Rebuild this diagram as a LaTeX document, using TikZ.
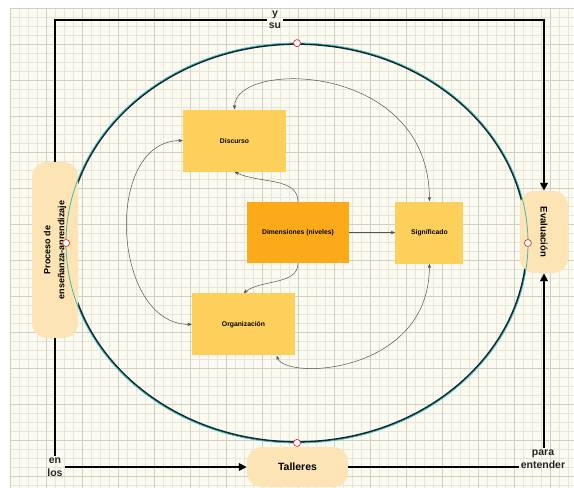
\documentclass[tikz,border=0pt]{standalone}
\usepackage{fontspec}
\setmainfont{Liberation Sans}
\usepackage{tikz}
\usetikzlibrary{
  arrows.meta, % for prettier arrows
  positioning, % for relative node positioning
  calc, % for position calculations
  shapes.geometric, % for the ellipse
}
\definecolor{paper-cream}{RGB}{251, 250, 240}
\definecolor{grid-minor}{RGB}{231, 229, 216}
\definecolor{grid-major}{RGB}{210, 207, 192}
\definecolor{box-yellow}{RGB}{253, 208, 92}
\definecolor{box-orange}{RGB}{253, 170, 26}
\definecolor{pill-beige}{RGB}{252, 228, 180}
\definecolor{ring-navy}{RGB}{14, 36, 52}
\definecolor{ring-teal}{RGB}{66, 186, 178}
\definecolor{pin-red}{RGB}{226, 50, 50}

\begin{document}
\begin{tikzpicture}[x=1pt, y=-1pt,%
    flow/.style={line width=2.4pt, black, >={Triangle[length=8pt, width=7.5pt]}},%
    link/.style={gray!65!black, line width=0.5pt, >={Stealth[length=4.5pt, width=3.5pt]}},%
    box/.style={fill=box-yellow, minimum width=103pt, minimum height=62pt,%
      font=\fontsize{6.8}{8}\selectfont\bfseries},%
    pill/.style={fill=pill-beige, rounded corners=15pt, align=center,%
      font=\fontsize{9}{14}\selectfont\bfseries},%
    tag/.style={text=black!85, align=center, inner sep=2pt,%
      font=\fontsize{10.5}{12.5}\selectfont\bfseries},%
    pin/.style={circle, draw=pin-red, fill=white, line width=0.7pt, inner sep=0pt, minimum size=7pt},%
  ]
  \useasboundingbox (0,0) rectangle (574,488);
  % paper with grid
  \fill[paper-cream] (10,8) rectangle (574,488);
  \foreach \gx in {10,19,...,574} \draw[grid-minor, line width=0.4pt] (\gx,8) -- (\gx,488);
  \foreach \gy in {8,17,...,488} \draw[grid-minor, line width=0.4pt] (10,\gy) -- (574,\gy);
  \foreach \gx in {10,46,...,574} \draw[grid-major, line width=0.5pt] (\gx,8) -- (\gx,488);
  \foreach \gy in {8,44,...,488} \draw[grid-major, line width=0.5pt] (10,\gy) -- (574,\gy);

  % the big cycle
  \node[ellipse, draw=ring-navy, line width=1.8pt, minimum width=460pt, minimum height=398pt, inner sep=0pt]
    (cycle) at (297,243) {};

  % inner boxes
  \node[box, fill=box-orange, minimum width=102pt, minimum height=61pt] (dim) at (298,232.5) {Dimensiones (niveles)};
  \node[box, above=30pt of dim, xshift=-63.5pt] (disc) {Discurso};
  \node[box, right=46pt of dim, minimum width=68pt] (sig) {Significado};
  \node[box, below=30pt of dim, xshift=-54.5pt] (org) {Organización};

  % outer nodes
  \node[pill, rotate=90, minimum width=176pt, minimum height=46pt] (proc) at (55,250) {Proceso de\\enseñanza-aprendizaje};
  \node[pill, rotate=-90, minimum width=82pt, minimum height=48pt, font=\fontsize{9.5}{12}\selectfont\bfseries]
    (eval) at (544,232) {Evaluación};
  \node[pill, minimum width=101pt, minimum height=40pt, font=\fontsize{10.5}{12}\selectfont\bfseries]
    (talleres) at (297.5,467) {Talleres};

  % teal edge of the cycle, over the nodes
  \draw[ring-teal, line width=0.8pt] (cycle.center) ellipse [x radius=231, y radius=200];
  \foreach \side in {north,south,east,west}
    \node[pin] at (cycle.\side) {};

  % labels on the thick lines
  \node[tag] (ysu) at (275,20) {y\\su};
  \node[tag] (enlos) at (55,467) {en\\los};
  \node[tag] (paraent) at (543,459) {para\\entender};

  % thick connectors
  \draw[flow] (proc.east) |- (ysu.west);
  \draw[flow,->] (ysu.east) -| (eval.west);
  \draw[flow] (proc.west) -- (proc.west |- enlos.north);
  \draw[flow,->] (enlos.east) -- (talleres);
  \draw[flow] (talleres) -- (talleres -| paraent.west);
  \draw[flow,->] (paraent.north -| eval.east) -- (eval.east);

  % thin connectors between the boxes
  \draw[link,<->] (disc.north) .. controls +(0,-50) and +(0,-140) .. (sig.north);
  \draw[link,->] (dim.north) .. controls +(0,-25) and +(25,12) .. (disc.south);
  \draw[link,->] (dim) -- (sig);
  \draw[link,->] (dim.south) .. controls +(0,22) and +(18,-14) .. (org.north);
  \draw[link,<->] (disc.west) .. controls +(-80,0) and +(-80,0) .. (org.west);
  \draw[link,<->] (sig.south) .. controls +(0,110) and +(10,25) .. ([xshift=33pt]org.south);
\end{tikzpicture}
\end{document}
